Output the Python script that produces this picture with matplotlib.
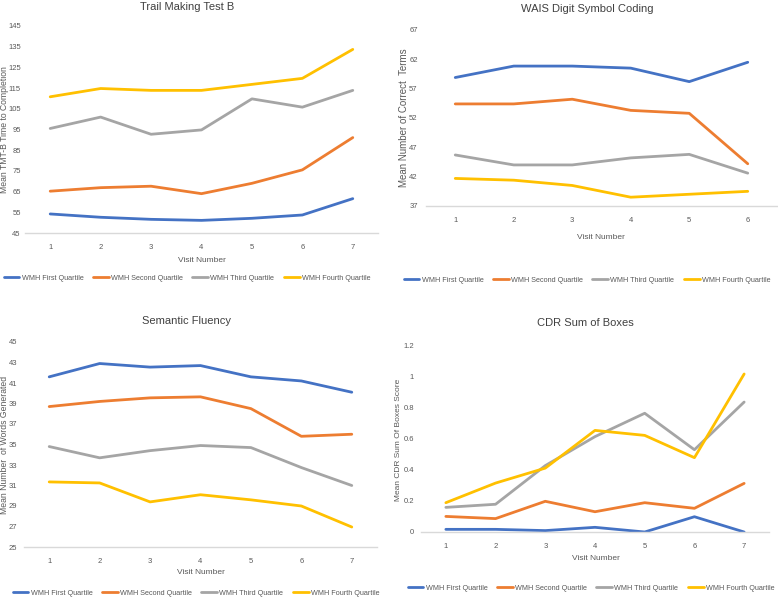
import matplotlib.pyplot as plt

plt.rcParams['font.family'] = ['Liberation Sans', 'DejaVu Sans']

labels = ['WMH First Quartile', 'WMH Second Quartile', 'WMH Third Quartile', 'WMH Fourth Quartile']
colors = ['#4472C4', '#ED7D31', '#A5A5A5', '#FFC000']

# Trail Making Test B
tmt_visits = [1, 2, 3, 4, 5, 6, 7]
tmt_q1 = [54.2, 52.6, 51.6, 51.1, 52.1, 53.7, 61.6]
tmt_q2 = [65.2, 66.9, 67.6, 64.0, 69.0, 75.5, 91.1]
tmt_q3 = [95.5, 101.0, 92.7, 94.8, 109.8, 105.8, 113.9]
tmt_q4 = [110.8, 114.8, 113.9, 113.9, 116.8, 119.7, 133.7]

# WAIS Digit Symbol Coding
wais_visits = [1, 2, 3, 4, 5, 6]
wais_q1 = [58.9, 60.85, 60.85, 60.5, 58.2, 61.5]
wais_q2 = [54.4, 54.4, 55.2, 53.3, 52.8, 44.2]
wais_q3 = [45.7, 44.0, 44.0, 45.2, 45.8, 42.6]
wais_q4 = [41.7, 41.4, 40.5, 38.5, 39.0, 39.5]

# Semantic Fluency
sf_visits = [1, 2, 3, 4, 5, 6, 7]
sf_q1 = [41.6, 42.9, 42.55, 42.7, 41.6, 41.2, 40.1]
sf_q2 = [38.7, 39.2, 39.55, 39.65, 38.5, 35.8, 36.0]
sf_q3 = [34.8, 33.7, 34.4, 34.9, 34.7, 32.75, 31.0]
sf_q4 = [31.35, 31.25, 29.4, 30.1, 29.6, 29.0, 26.95]

# CDR Sum of Boxes
cdr_visits = [1, 2, 3, 4, 5, 6, 7]
cdr_q1 = [0.017, 0.017, 0.009, 0.03, 0.0, 0.098, 0.0]
cdr_q2 = [0.10, 0.086, 0.197, 0.13, 0.188, 0.152, 0.312]
cdr_q3 = [0.158, 0.178, 0.426, 0.612, 0.762, 0.528, 0.834]
cdr_q4 = [0.188, 0.314, 0.41, 0.652, 0.62, 0.477, 1.014]

W, H = 778, 597
fig = plt.figure(figsize=(W / 100, H / 100), dpi=100)
fig.patch.set_facecolor('white')


def px(x, y):
    return x / W, 1 - y / H


def panel(box, visits, series, yticks, ylabel_txt, ylab_size, title, title_xy,
          xlab_xy, ylab_xy, leg_xy, yfmt, ypad):
    x0, y0, x1, y1 = box
    ax = fig.add_axes([x0 / W, 1 - y1 / H, (x1 - x0) / W, (y1 - y0) / H])
    for s, c, lab in zip(series, colors, labels):
        ax.plot(visits, s, color=c, lw=2.0, label=lab, solid_capstyle='round')
    ax.set_xlim(0.5, len(visits) + 0.5)
    ax.set_ylim(yticks[0], yticks[-1])
    ax.set_xticks(visits)
    ax.set_yticks(yticks)
    ax.set_yticklabels([yfmt(v) for v in yticks])
    for sp in ['top', 'right', 'left']:
        ax.spines[sp].set_visible(False)
    ax.spines['bottom'].set_color('#D9D9D9')
    ax.spines['bottom'].set_linewidth(1.0)
    ax.tick_params(length=0, labelsize=5.5, labelcolor='#595959')
    ax.tick_params(axis='x', pad=8)
    ax.tick_params(axis='y', pad=ypad)
    ax.patch.set_alpha(0)
    fig.text(*px(*title_xy), title, ha='center', va='center', fontsize=8,
             color='#404040')
    fig.text(*px(*xlab_xy), 'Visit Number', ha='center', va='center',
             fontsize=6, color='#595959')
    fig.text(*px(*ylab_xy), ylabel_txt, ha='center', va='center',
             rotation=90, fontsize=ylab_size, color='#595959')
    fig.legend(handles=ax.get_lines(), loc='center', ncol=4,
               bbox_to_anchor=px(*leg_xy), frameon=False, fontsize=5.2,
               handlelength=2.2, handletextpad=0.3, columnspacing=1.3,
               labelcolor='#595959', borderaxespad=0, borderpad=0)
    return ax


panel((25, 26, 378, 233), tmt_visits, [tmt_q1, tmt_q2, tmt_q3, tmt_q4],
      list(range(45, 146, 10)), 'Mean TMT-B Time to Completion', 6.2,
      'Trail Making Test B', (187, 7), (202, 260), (4.5, 130), (187, 278),
      lambda v: str(v), 3)

panel((426, 30, 777, 206), wais_visits, [wais_q1, wais_q2, wais_q3, wais_q4],
      list(range(37, 68, 5)), 'Mean Number of Correct  Terms', 7.0,
      'WAIS Digit Symbol Coding', (587, 9), (601, 237), (404, 118), (587, 280),
      lambda v: str(v), 6)

panel((24, 342, 377, 547), sf_visits, [sf_q1, sf_q2, sf_q3, sf_q4],
      list(range(25, 46, 2)), 'Mean Number  of Words Generated', 6.2,
      'Semantic Fluency', (187, 321), (201, 573), (4.5, 445), (196, 593),
      lambda v: str(v), 5)

panel((421, 345, 769, 532), cdr_visits, [cdr_q1, cdr_q2, cdr_q3, cdr_q4],
      [0, 0.2, 0.4, 0.6, 0.8, 1.0, 1.2], 'Mean CDR Sum Of Boxes Score', 6.0,
      'CDR Sum of Boxes', (585, 323), (596, 558), (399, 440), (591, 588),
      lambda v: '0' if v == 0 else ('1' if v == 1 else f'{v:g}'), 5)

fig.savefig('out.png', dpi=100)
